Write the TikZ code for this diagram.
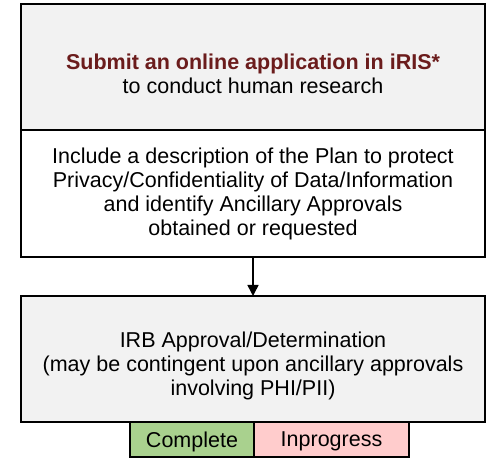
\documentclass[tikz,border=0pt]{standalone}
\usepackage{fontspec}
\setmainfont{Liberation Sans}
\usepackage{tikz}
\usetikzlibrary{arrows.meta}
\usetikzlibrary{positioning}
\definecolor{boxgray}{HTML}{F2F2F2}
\definecolor{donegreen}{HTML}{A9D18E}
\definecolor{todopink}{HTML}{FFCCCC}
\definecolor{irisred}{HTML}{6B1C1C}

\begin{document}
\begin{tikzpicture}[
  stagebox/.style={draw, line width=1.5pt, outer sep=0pt, align=center,
    minimum width=464pt, minimum height=126pt, inner sep=0pt,
    font=\fontsize{21.5}{24}\selectfont},
  legendbox/.style={draw, line width=1.5pt, outer sep=0pt, inner sep=0pt,
    minimum height=35pt, text depth=0pt, font=\fontsize{21.5}{24}\selectfont},
  flow/.style={line width=1.5pt, -{Triangle[length=11pt,width=11pt]}}]
\useasboundingbox (0,0) rectangle (490pt,460pt);
\node[stagebox, fill=boxgray, anchor=north west, line width=2pt] (submit) at (21pt,456pt)
  {\parbox{460pt}{\centering\vspace*{13pt}{\color{irisred}\bfseries Submit an online application in iRIS*}\\
  to conduct human research}};
\node[stagebox, below=0pt of submit, minimum height=127pt] (plan)
  {Include a description of the Plan to protect\\
   Privacy/Confidentiality of Data/Information\\
   and identify Ancillary Approvals\\
   obtained or requested};
\node[stagebox, fill=boxgray, below=39pt of plan] (irb)
  {\parbox{460pt}{\centering\vspace*{13pt}IRB Approval/Determination\\
   (may be contingent upon ancillary approvals\\
   involving PHI/PII)}};
\draw[flow] (plan) -- (irb);
% legend
\node[legendbox, fill=donegreen, minimum width=124pt, anchor=north east] (complete)
  at ([xshift=1pt]irb.south) {Complete};
\node[legendbox, fill=todopink, minimum width=155pt, right=0pt of complete] (inprogress)
  {Inprogress};
\end{tikzpicture}
\end{document}
